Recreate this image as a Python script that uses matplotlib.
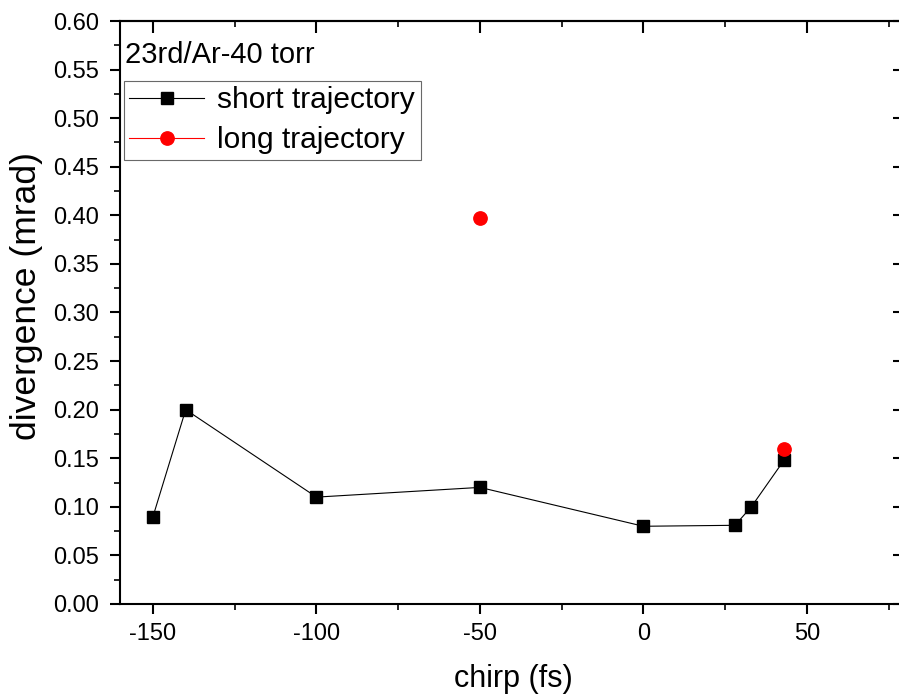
import matplotlib
matplotlib.use("Agg")
import matplotlib.pyplot as plt
from matplotlib.ticker import MultipleLocator, FormatStrFormatter
from matplotlib.lines import Line2D

plt.rcParams['font.family'] = ['Liberation Sans', 'DejaVu Sans']
plt.rcParams['axes.unicode_minus'] = False

# chirp (fs) and divergence (mrad)
short_chirp = [-150, -140, -100, -50, 0, 28, 33, 43]
short_div = [0.090, 0.200, 0.110, 0.120, 0.080, 0.081, 0.100, 0.148]
long_chirp = [-50, 43]
long_div = [0.397, 0.160]

W, H = 899, 696
fig = plt.figure(figsize=(W / 100, H / 100), dpi=100)
ax = fig.add_axes([120.3 / W, 1 - 604 / H, (905 - 120.3) / W, 583 / H])

ax.plot(short_chirp, short_div, color='black', lw=0.8, marker='s',
        markersize=8.6, markerfacecolor='black', markeredgecolor='black',
        zorder=3)
ax.plot(long_chirp, long_div, linestyle='none', marker='o',
        markersize=9.6, markerfacecolor='red', markeredgecolor='red',
        zorder=4)

ax.set_xlim(-160, 80)
ax.set_ylim(0, 0.60)
ax.xaxis.set_major_locator(MultipleLocator(50))
ax.xaxis.set_minor_locator(MultipleLocator(25))
ax.yaxis.set_major_locator(MultipleLocator(0.05))
ax.yaxis.set_minor_locator(MultipleLocator(0.025))
ax.yaxis.set_major_formatter(FormatStrFormatter('%.2f'))

for side in ['left', 'bottom', 'top', 'right']:
    ax.spines[side].set_linewidth(1.5)

ax.tick_params(axis='both', which='major', direction='out', length=7.5,
               width=1.5, labelsize=17, top=False, right=False)
ax.tick_params(axis='x', which='major', pad=6.5)
ax.tick_params(axis='y', which='major', pad=8)
ax.tick_params(axis='both', which='minor', direction='out', length=4,
               width=1.2, top=False, right=False)

# mirrored inward ticks along the top and right edges
ax_top = ax.secondary_xaxis('top')
ax_top.xaxis.set_major_locator(MultipleLocator(50))
ax_top.xaxis.set_minor_locator(MultipleLocator(25))
ax_top.tick_params(which='major', direction='in', length=8.5, width=1.5, labeltop=False)
ax_top.tick_params(which='minor', direction='in', length=4.3, width=1.2, labeltop=False)
ax_top.spines['top'].set_linewidth(1.5)
ax_right = ax.secondary_yaxis('right')
ax_right.yaxis.set_major_locator(MultipleLocator(0.05))
ax_right.yaxis.set_minor_locator(MultipleLocator(0.025))
ax_right.tick_params(which='major', direction='in', length=8.5, width=1.5, labelright=False)
ax_right.tick_params(which='minor', direction='in', length=4.3, width=1.2, labelright=False)

fig.text(513 / W, 1 - 679 / H, 'chirp (fs)', fontsize=22, ha='center', va='center')
fig.text(27 / W, 1 - 296 / H, 'divergence (mrad)', fontsize=25.5, rotation=90,
         ha='center', va='center')

fig.text(125 / W, 1 - 63 / H, '23rd/Ar-40 torr', fontsize=21,
         ha='left', va='baseline')

handles = [
    Line2D([], [], color='black', lw=0.8, marker='s', markersize=8.6,
           markerfacecolor='black', markeredgecolor='black'),
    Line2D([], [], color='red', lw=0.8, marker='o', markersize=9.6,
           markerfacecolor='red', markeredgecolor='red'),
]
leg = ax.legend(handles, ['short trajectory', 'long trajectory'],
                loc='upper left', bbox_to_anchor=(124 / W, 1 - 81 / H),
                bbox_transform=fig.transFigure, fontsize=21.5,
                frameon=True, fancybox=False, edgecolor='#444444',
                borderpad=0.18, handlelength=2.5, handletextpad=0.45,
                labelspacing=0.4, borderaxespad=0)
leg.get_frame().set_linewidth(0.8)

fig.savefig('out.png', dpi=100)
